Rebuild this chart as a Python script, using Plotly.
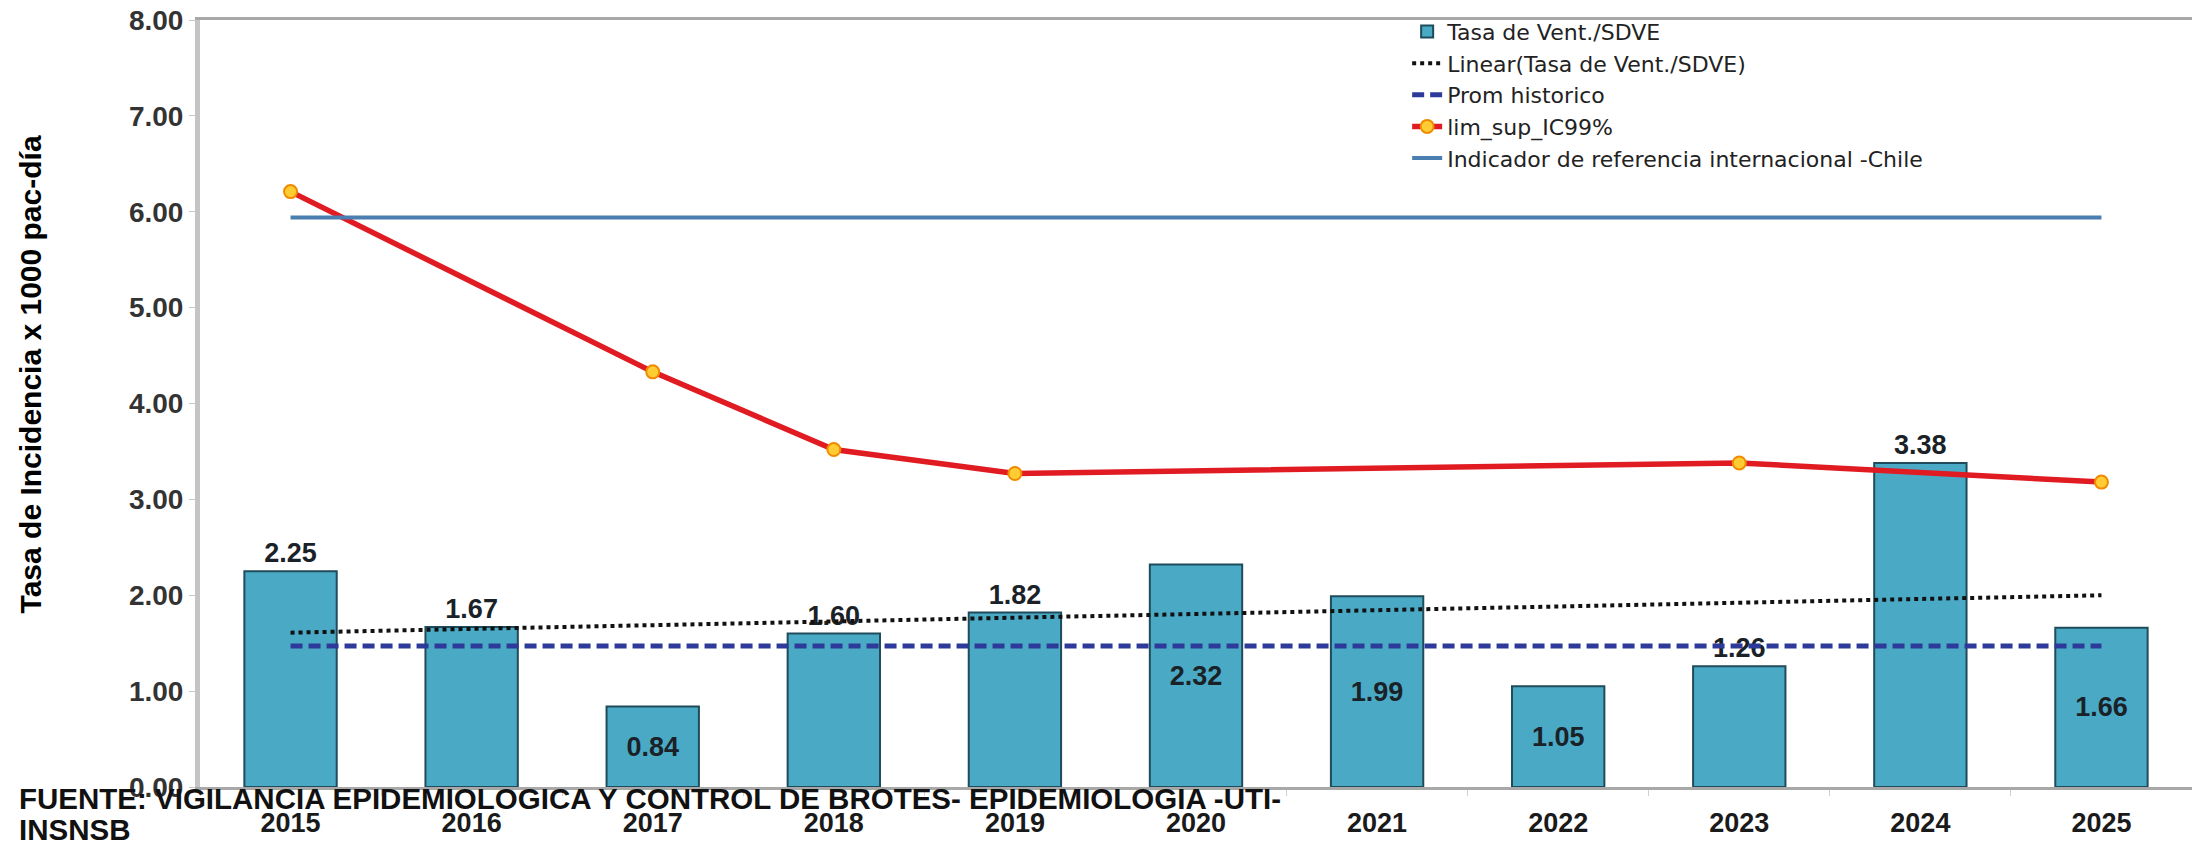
import plotly.graph_objects as go

# ---------------- data ----------------
years = ["2015", "2016", "2017", "2018", "2019", "2020", "2021", "2022", "2023", "2024", "2025"]
tasa_vent = [2.25, 1.67, 0.84, 1.60, 1.82, 2.32, 1.99, 1.05, 1.26, 3.38, 1.66]
tasa_labels = ["2.25", "1.67", "0.84", "1.60", "1.82", "2.32", "1.99", "1.05", "1.26", "3.38", "1.66"]
lim_sup_ic99 = [6.21, None, 4.33, 3.52, 3.27, None, None, None, 3.38, None, 3.18]
linear_trend_ends = [1.61, 2.00]          # trend line value at first and last year
prom_historico = 1.47
indicador_chile = 5.94
y_ticks = [0, 1, 2, 3, 4, 5, 6, 7, 8]

# ---------------- styles ----------------
label_pos = ["outside", "outside", "inside", "outside", "outside", "inside",
             "inside", "inside", "outside", "outside", "inside"]
FONT = "Liberation Sans, Arial, sans-serif"
LEGEND_FONT = "DejaVu Sans, Liberation Sans, sans-serif"

fig = go.Figure()

fig.add_trace(go.Bar(
    x=years, y=tasa_vent, name="Tasa de Vent./SDVE",
    marker=dict(color="#4aaac6", line=dict(color="#1f4b5a", width=2)),
    text=tasa_labels, textposition=label_pos, insidetextanchor="middle",
    constraintext="none", cliponaxis=False,
    textfont=dict(family=FONT, size=27, color="#1a2228", weight="bold"),
    insidetextfont=dict(family=FONT, size=27, color="#1a2228", weight="bold"),
    outsidetextfont=dict(family=FONT, size=27, color="#1a2228", weight="bold"),
))

fig.add_trace(go.Scatter(
    x=[years[0], years[-1]], y=linear_trend_ends, mode="lines",
    name="Linear(Tasa de Vent./SDVE)",
    line=dict(color="#111111", width=4, dash="dot"),
))

fig.add_trace(go.Scatter(
    x=[years[0], years[-1]], y=[prom_historico, prom_historico], mode="lines",
    name="Prom historico",
    line=dict(color="#2e3a9a", width=5, dash="12px,6px"),
))

fig.add_trace(go.Scatter(
    x=years, y=lim_sup_ic99, mode="lines+markers", connectgaps=True,
    name="lim_sup_IC99%",
    line=dict(color="#e01b22", width=5.5),
    marker=dict(size=13, color="#ffcc33", line=dict(color="#f08a00", width=2)),
))

fig.add_trace(go.Scatter(
    x=[years[0], years[-1]], y=[indicador_chile, indicador_chile], mode="lines",
    name="Indicador de referencia internacional -Chile",
    line=dict(color="#4a7db0", width=4),
))

fig.update_layout(
    width=2192, height=845,
    margin=dict(l=200, r=0, t=20, b=58),
    paper_bgcolor="white", plot_bgcolor="white",
    bargap=0.49,
    font=dict(family=FONT, color="#222222"),
    showlegend=True,
    legend=dict(
        x=0.606, y=1.012, xanchor="left", yanchor="top",
        font=dict(family=LEGEND_FONT, size=22, color="#222222"),
        bgcolor="rgba(0,0,0,0)", tracegroupgap=0, itemwidth=30,
    ),
    xaxis=dict(
        type="category", range=[-0.5, len(years) - 0.5],
        showgrid=False, showline=True, mirror=True,
        linecolor="#a8a8a8", linewidth=3,
        ticks="outside", tickson="boundaries", ticklen=6, tickcolor="#d0d0d0",
        tickfont=dict(family=FONT, size=27, color="#1a1a1a", weight="bold"),
        ticklabelstandoff=10,
    ),
    yaxis=dict(
        range=[0, 8], tickvals=y_ticks, tickformat=".2f",
        showgrid=False, zeroline=False, showline=True,
        linecolor="#c4c4c4", linewidth=5,
        ticks="outside", ticklen=6, tickcolor="#c8c8c8",
        tickfont=dict(family=FONT, size=28, color="#333333", weight="bold"),
    ),
    annotations=[
        dict(text="Tasa de Incidencia x 1000 pac-día", textangle=-90,
             xref="paper", yref="paper", x=-0.0853, y=0.538,
             xanchor="center", yanchor="middle", showarrow=False,
             font=dict(family=FONT, size=30, color="#000000", weight="bold")),
        dict(text="FUENTE: VIGILANCIA EPIDEMIOLOGICA Y CONTROL DE BROTES- EPIDEMIOLOGIA -UTI-",
             xref="paper", yref="paper", x=-0.0919, y=-0.0156,
             xanchor="left", yanchor="middle", align="left", showarrow=False,
             font=dict(family=FONT, size=29.5, color="#111111", weight="bold")),
        dict(text="INSNSB",
             xref="paper", yref="paper", x=-0.0919, y=-0.056,
             xanchor="left", yanchor="middle", align="left", showarrow=False,
             font=dict(family=FONT, size=29.5, color="#111111", weight="bold")),
    ],
)

fig.write_html("out.html", config={"displayModeBar": False},
               post_script="document.body.style.margin='0';document.body.style.overflow='hidden';")
